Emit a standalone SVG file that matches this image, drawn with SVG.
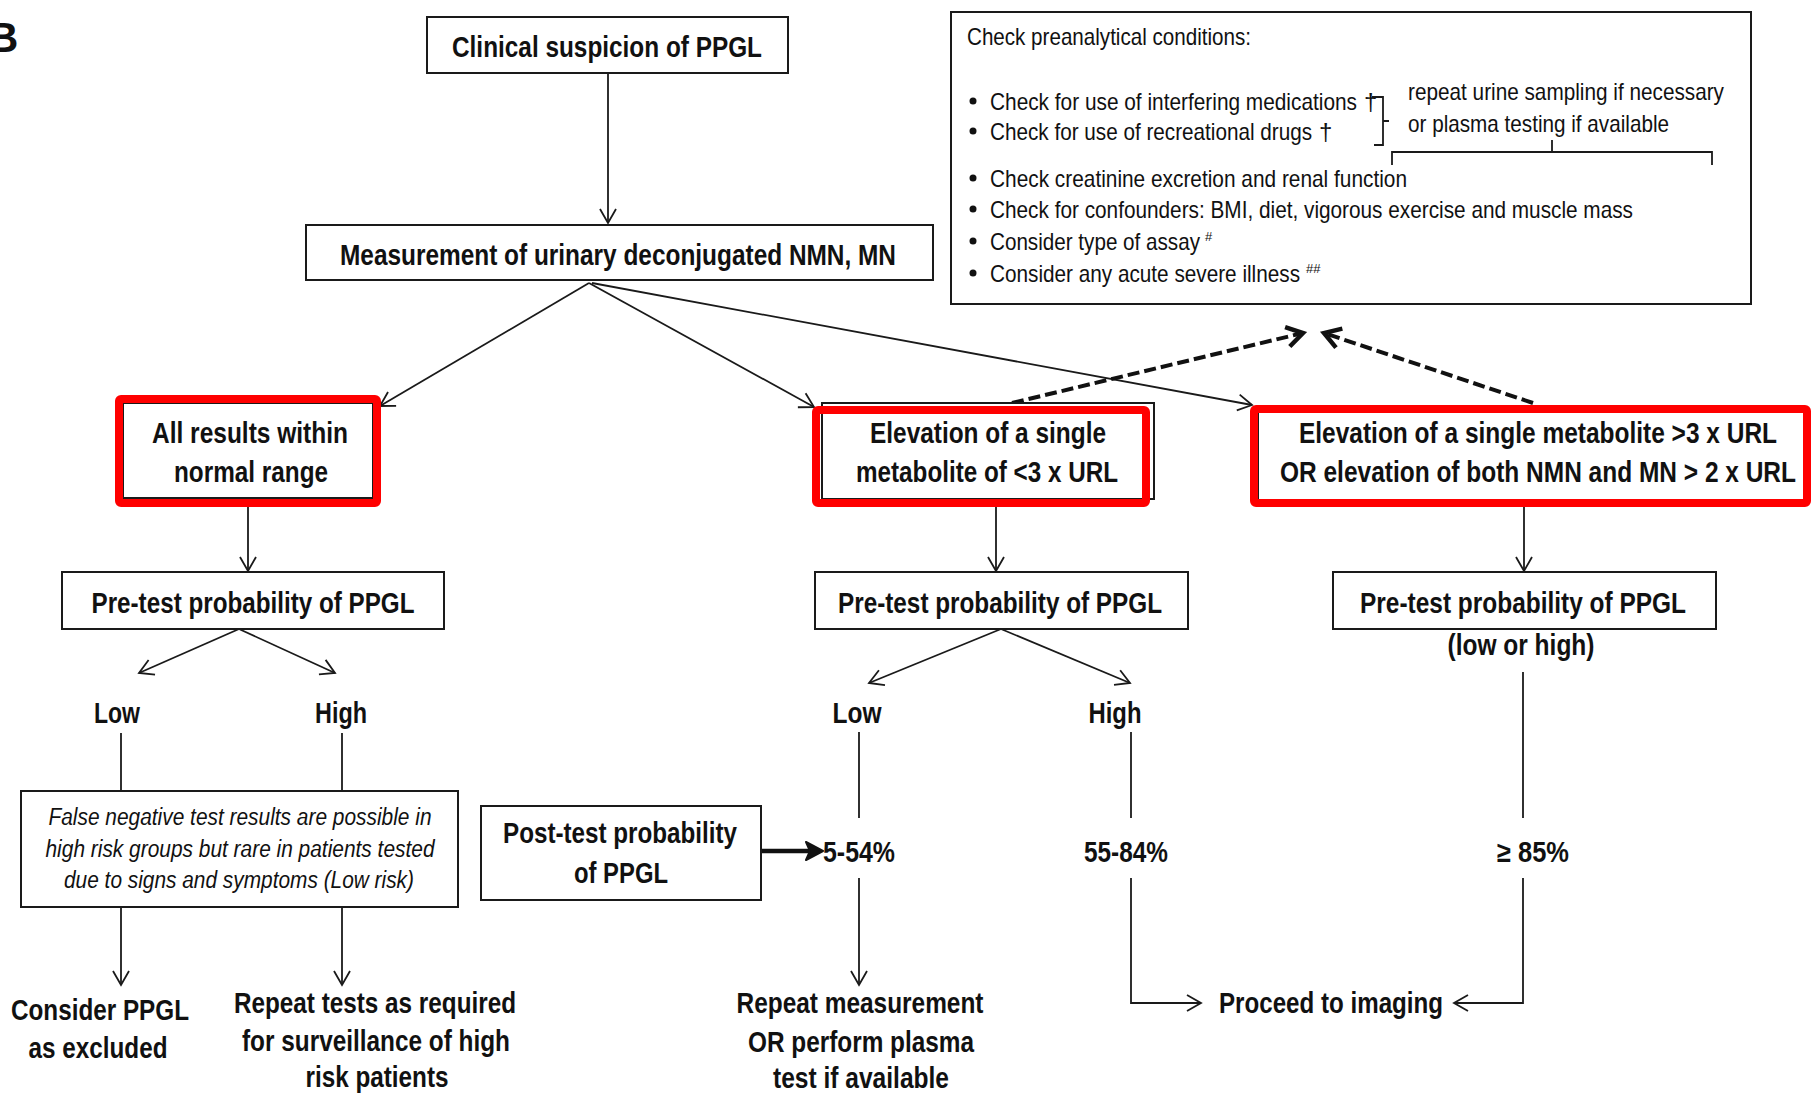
<svg xmlns="http://www.w3.org/2000/svg" width="1811" height="1095" viewBox="0 0 1811 1095">
<style>
  .bg{fill:#fff}
  .box{fill:#fff;stroke:#1a1a1a;stroke-width:2}
  .red{fill:none;stroke:#ff0000;stroke-width:8}
  .b{font-family:"Liberation Sans Narrow","Arial Narrow","Liberation Sans",sans-serif;font-weight:bold;font-size:29px;fill:#111;text-anchor:middle}
  .n{font-family:"Liberation Sans Narrow","Arial Narrow","Liberation Sans",sans-serif;font-size:24px;fill:#111}
  .i{font-family:"Liberation Sans Narrow","Arial Narrow","Liberation Sans",sans-serif;font-style:italic;font-size:23px;fill:#111;text-anchor:middle}
  .sup{font-family:"Liberation Sans",sans-serif;font-size:13px;fill:#111}
  .c{fill:none;stroke:#1a1a1a;stroke-width:1.8}
  .thick{fill:none;stroke:#111;stroke-width:4.5}
  .dash{fill:none;stroke:#111;stroke-width:4;stroke-dasharray:12 5}
</style>
<defs>
  <marker id="a" markerUnits="userSpaceOnUse" viewBox="-16 -10 18 20" refX="0" refY="0" markerWidth="18" markerHeight="20" orient="auto" overflow="visible">
    <path d="M-14,-8 L0,0 L-14,8" fill="none" stroke="#1a1a1a" stroke-width="1.8"/>
  </marker>
  <marker id="ad" markerUnits="userSpaceOnUse" viewBox="-20 -12 22 24" refX="0" refY="0" markerWidth="22" markerHeight="24" orient="auto" overflow="visible">
    <path d="M-16,-10 L0,0 L-16,10" fill="none" stroke="#111" stroke-width="4.5"/>
  </marker>
</defs>
<rect class="bg" x="0" y="0" width="1811" height="1095"/>

<text x="-12" y="52" font-family="Liberation Sans,sans-serif" font-weight="bold" font-size="42" fill="#111">B</text>

<g id="connectors">
  <path class="c" d="M608,73 V223" marker-end="url(#a)"/>
  <path class="c" d="M589,283 L380,406" marker-end="url(#a)"/>
  <path class="c" d="M589,283 L814,407" marker-end="url(#a)"/>
  <path class="c" d="M592,283 L1252,405" marker-end="url(#a)"/>
  <path class="c" d="M248,507 V571" marker-end="url(#a)"/>
  <path class="c" d="M239,629 L139,673" marker-end="url(#a)"/>
  <path class="c" d="M239,629 L335,673" marker-end="url(#a)"/>
  <path class="c" d="M121,733 V790"/>
  <path class="c" d="M342,733 V790"/>
  <path class="c" d="M121,907 V985" marker-end="url(#a)"/>
  <path class="c" d="M342,907 V985" marker-end="url(#a)"/>
  <path class="c" d="M996,507 V571" marker-end="url(#a)"/>
  <path class="c" d="M1001,629 L869,683" marker-end="url(#a)"/>
  <path class="c" d="M1001,629 L1130,683" marker-end="url(#a)"/>
  <path class="c" d="M859,732 V818"/>
  <path class="c" d="M859,878 V985" marker-end="url(#a)"/>
  <path class="c" d="M1131,732 V818"/>
  <path class="c" d="M1131,878 V1003 H1201" marker-end="url(#a)"/>
  <path class="c" d="M1524,507 V571" marker-end="url(#a)"/>
  <path class="c" d="M1523,672 V818"/>
  <path class="c" d="M1523,878 V1003 H1454" marker-end="url(#a)"/>
  <path class="thick" d="M761,851 H814"/>
  <path d="M806,842 L823,851 L806,860 L810,851 Z" fill="#111" stroke="#111" stroke-width="2" stroke-linejoin="round"/>
  <path class="dash" d="M1012,403 L1303,333" marker-end="url(#ad)"/>
  <path class="dash" d="M1533,403 L1324,333" marker-end="url(#ad)"/>
</g>

<g id="clinical">
  <rect class="box" x="427" y="17" width="361" height="56"/>
  <text class="b" x="607" y="57" textLength="310" lengthAdjust="spacingAndGlyphs">Clinical suspicion of PPGL</text>
</g>

<g id="measurement">
  <rect class="box" x="306" y="225" width="627" height="55"/>
  <text class="b" x="618" y="265" textLength="556" lengthAdjust="spacingAndGlyphs">Measurement of urinary deconjugated NMN, MN</text>
</g>

<g id="checklist">
  <rect class="box" x="951" y="12" width="800" height="292"/>
  <text class="n" x="967" y="45" textLength="284" lengthAdjust="spacingAndGlyphs">Check preanalytical conditions:</text>
  <circle cx="973" cy="101" r="3.5" fill="#111"/>
  <text class="n" x="990" y="110" textLength="367" lengthAdjust="spacingAndGlyphs">Check for use of interfering medications</text>
  <text class="n" x="1364" y="110">†</text>
  <circle cx="973" cy="131" r="3.5" fill="#111"/>
  <text class="n" x="990" y="140" textLength="322" lengthAdjust="spacingAndGlyphs">Check for use of recreational drugs</text>
  <text class="n" x="1319" y="140">†</text>
  <path class="c" d="M1372,97 H1383 V145 H1374 M1383,121 H1389"/>
  <text class="n" x="1408" y="100" textLength="316" lengthAdjust="spacingAndGlyphs">repeat urine sampling if necessary</text>
  <text class="n" x="1408" y="132" textLength="261" lengthAdjust="spacingAndGlyphs">or plasma testing if available</text>
  <path class="c" d="M1392,165 V152 H1712 V165 M1552,152 V140"/>
  <circle cx="973" cy="178" r="3.5" fill="#111"/>
  <text class="n" x="990" y="187" textLength="417" lengthAdjust="spacingAndGlyphs">Check creatinine excretion and renal function</text>
  <circle cx="973" cy="209" r="3.5" fill="#111"/>
  <text class="n" x="990" y="218" textLength="643" lengthAdjust="spacingAndGlyphs">Check for confounders: BMI, diet, vigorous exercise and muscle mass</text>
  <circle cx="973" cy="241" r="3.5" fill="#111"/>
  <text class="n" x="990" y="250" textLength="210" lengthAdjust="spacingAndGlyphs">Consider type of assay</text>
  <text class="sup" x="1205" y="241">#</text>
  <circle cx="973" cy="273" r="3.5" fill="#111"/>
  <text class="n" x="990" y="282" textLength="310" lengthAdjust="spacingAndGlyphs">Consider any acute severe illness</text>
  <text class="sup" x="1306" y="273">##</text>
</g>

<g id="normal">
  <rect class="box" x="123" y="403" width="250" height="95"/>
  <rect class="red" x="119" y="399" width="258" height="104" rx="2"/>
  <text class="b" x="250" y="443" textLength="196" lengthAdjust="spacingAndGlyphs">All results within</text>
  <text class="b" x="251" y="482" textLength="154" lengthAdjust="spacingAndGlyphs">normal range</text>
</g>

<g id="single-low">
  <rect class="box" x="822" y="403" width="332" height="96"/>
  <rect class="red" x="816" y="410" width="330" height="93" rx="2"/>
  <text class="b" x="988" y="443" textLength="236" lengthAdjust="spacingAndGlyphs">Elevation of a single</text>
  <text class="b" x="987" y="482" textLength="262" lengthAdjust="spacingAndGlyphs">metabolite of &lt;3 x URL</text>
</g>

<g id="high-elev">
  <rect class="box" x="1258" y="407" width="546" height="93"/>
  <rect class="red" x="1254" y="409" width="553" height="94" rx="2"/>
  <text class="b" x="1538" y="443" textLength="478" lengthAdjust="spacingAndGlyphs">Elevation of a single metabolite &gt;3 x URL</text>
  <text class="b" x="1538" y="482" textLength="516" lengthAdjust="spacingAndGlyphs">OR elevation of both NMN and MN &gt; 2 x URL</text>
</g>

<g id="pretest1">
  <rect class="box" x="62" y="572" width="382" height="57"/>
  <text class="b" x="253" y="613" textLength="323" lengthAdjust="spacingAndGlyphs">Pre-test probability of PPGL</text>
</g>
<g id="pretest2">
  <rect class="box" x="815" y="572" width="373" height="57"/>
  <text class="b" x="1000" y="613" textLength="324" lengthAdjust="spacingAndGlyphs">Pre-test probability of PPGL</text>
</g>
<g id="pretest3">
  <rect class="box" x="1333" y="572" width="383" height="57"/>
  <text class="b" x="1523" y="613" textLength="326" lengthAdjust="spacingAndGlyphs">Pre-test probability of PPGL</text>
  <text class="b" x="1521" y="655" textLength="147" lengthAdjust="spacingAndGlyphs">(low or high)</text>
</g>

<g id="low1"><text class="b" x="117" y="723" textLength="46" lengthAdjust="spacingAndGlyphs">Low</text></g>
<g id="high1"><text class="b" x="341" y="723" textLength="52" lengthAdjust="spacingAndGlyphs">High</text></g>
<g id="low2"><text class="b" x="857" y="723" textLength="49" lengthAdjust="spacingAndGlyphs">Low</text></g>
<g id="high2"><text class="b" x="1115" y="723" textLength="53" lengthAdjust="spacingAndGlyphs">High</text></g>

<g id="falseneg">
  <rect class="box" x="21" y="791" width="437" height="116"/>
  <text class="i" x="240" y="825" textLength="383" lengthAdjust="spacingAndGlyphs">False negative test results are possible in</text>
  <text class="i" x="240" y="857" textLength="389" lengthAdjust="spacingAndGlyphs">high risk groups but rare in patients tested</text>
  <text class="i" x="239" y="888" textLength="350" lengthAdjust="spacingAndGlyphs">due to signs and symptoms (Low risk)</text>
</g>

<g id="posttest">
  <rect class="box" x="481" y="806" width="280" height="94"/>
  <text class="b" x="620" y="843" textLength="234" lengthAdjust="spacingAndGlyphs">Post-test probability</text>
  <text class="b" x="621" y="883" textLength="94" lengthAdjust="spacingAndGlyphs">of PPGL</text>
</g>

<g id="p1"><text class="b" x="859" y="862" textLength="72" lengthAdjust="spacingAndGlyphs">5-54%</text></g>
<g id="p2"><text class="b" x="1126" y="862" textLength="84" lengthAdjust="spacingAndGlyphs">55-84%</text></g>
<g id="p3"><text class="b" x="1533" y="862" textLength="72" lengthAdjust="spacingAndGlyphs">≥ 85%</text></g>

<g id="excluded">
  <text class="b" x="100" y="1020" textLength="178" lengthAdjust="spacingAndGlyphs">Consider PPGL</text>
  <text class="b" x="98" y="1058" textLength="139" lengthAdjust="spacingAndGlyphs">as excluded</text>
</g>
<g id="repeat-tests">
  <text class="b" x="375" y="1013" textLength="282" lengthAdjust="spacingAndGlyphs">Repeat tests as required</text>
  <text class="b" x="376" y="1051" textLength="268" lengthAdjust="spacingAndGlyphs">for surveillance of high</text>
  <text class="b" x="377" y="1087" textLength="143" lengthAdjust="spacingAndGlyphs">risk patients</text>
</g>
<g id="repeat-measure">
  <text class="b" x="860" y="1013" textLength="247" lengthAdjust="spacingAndGlyphs">Repeat measurement</text>
  <text class="b" x="861" y="1052" textLength="226" lengthAdjust="spacingAndGlyphs">OR perform plasma</text>
  <text class="b" x="861" y="1088" textLength="176" lengthAdjust="spacingAndGlyphs">test if available</text>
</g>
<g id="imaging">
  <text class="b" x="1331" y="1013" textLength="224" lengthAdjust="spacingAndGlyphs">Proceed to imaging</text>
</g>
</svg>
